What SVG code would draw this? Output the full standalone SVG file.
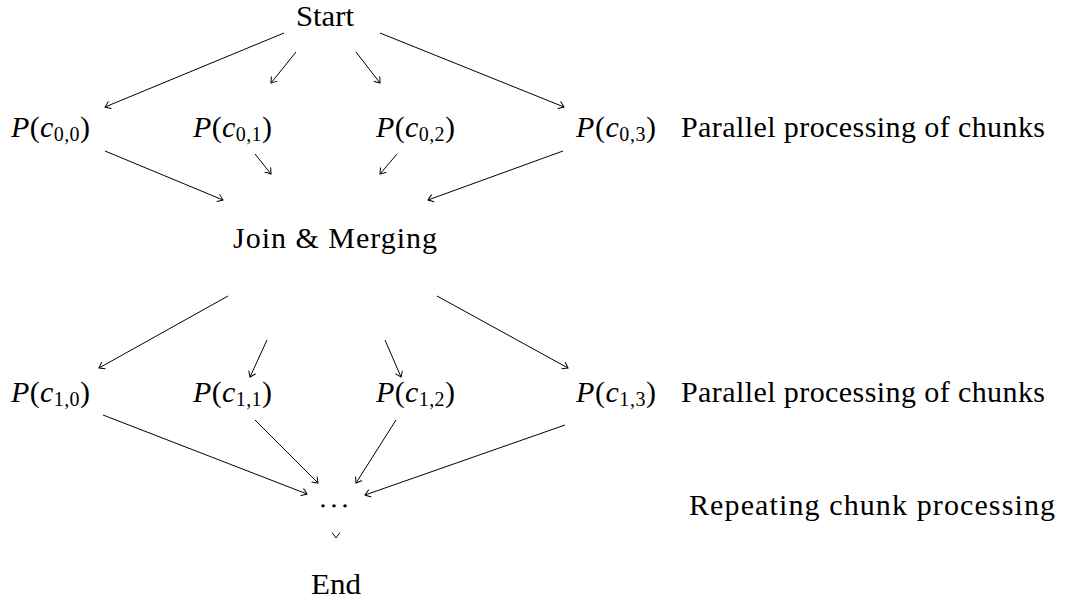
<svg xmlns="http://www.w3.org/2000/svg" width="1071" height="603" viewBox="0 0 1071 603">
  <style>
    text { font-family: "Liberation Serif", "DejaVu Serif", serif; font-size: 30px; fill: #000; }
    .m { text-anchor: middle; }
    .it { font-style: italic; }
    .sub { font-size: 20px; }
    .edge { stroke: #000; stroke-width: 1; fill: none; marker-end: url(#to); }
  </style>
  <defs>
    <marker id="to" viewBox="-6 -5 8 10" markerWidth="8" markerHeight="10" refX="0" refY="0" orient="auto" markerUnits="userSpaceOnUse">
      <path d="M -5 -3.6 Q -1 -0.8 0 0 Q -1 0.8 -5 3.6" stroke="#000" stroke-width="1" fill="none" stroke-linecap="round"/>
    </marker>
  </defs>

  <g id="connectors">
    <path class="edge" d="M 284 33 L 105 107"/>
    <path class="edge" d="M 296 52 L 271 83"/>
    <path class="edge" d="M 356 52 L 380 83"/>
    <path class="edge" d="M 380 33 L 564 107"/>
    <path class="edge" d="M 105 151 L 223 200"/>
    <path class="edge" d="M 255 154 L 271 174"/>
    <path class="edge" d="M 397 154 L 380 174"/>
    <path class="edge" d="M 563 151 L 428 200"/>
    <path class="edge" d="M 228 296 L 99 368"/>
    <path class="edge" d="M 267 340 L 250 377"/>
    <path class="edge" d="M 385 340 L 401 377"/>
    <path class="edge" d="M 437 296 L 568 368"/>
    <path class="edge" d="M 103 415 L 307 494"/>
    <path class="edge" d="M 255 420 L 318 483"/>
    <path class="edge" d="M 396 420 L 356 483"/>
    <path class="edge" d="M 565 425 L 365 495"/>
    <path class="edge" d="M 336 537.9 L 336 538"/>
  </g>

  <g id="start"><text x="296" y="26" textLength="58" lengthAdjust="spacingAndGlyphs">Start</text></g>

  <g id="p00"><text x="11" y="137" textLength="79"><tspan class="it">P</tspan>(<tspan class="it">c</tspan><tspan class="sub" dy="4">0,0</tspan><tspan dy="-4">)</tspan></text></g>
  <g id="p01"><text x="193" y="137" textLength="79"><tspan class="it">P</tspan>(<tspan class="it">c</tspan><tspan class="sub" dy="4">0,1</tspan><tspan dy="-4">)</tspan></text></g>
  <g id="p02"><text x="376" y="137" textLength="79"><tspan class="it">P</tspan>(<tspan class="it">c</tspan><tspan class="sub" dy="4">0,2</tspan><tspan dy="-4">)</tspan></text></g>
  <g id="p03"><text x="576" y="137" textLength="80"><tspan class="it">P</tspan>(<tspan class="it">c</tspan><tspan class="sub" dy="4">0,3</tspan><tspan dy="-4">)</tspan></text></g>
  <g id="label-row0"><text x="681" y="137" textLength="364">Parallel processing of chunks</text></g>

  <g id="join"><text x="233" y="248" textLength="204">Join &amp; Merging</text></g>

  <g id="p10"><text x="11" y="402" textLength="79"><tspan class="it">P</tspan>(<tspan class="it">c</tspan><tspan class="sub" dy="4">1,0</tspan><tspan dy="-4">)</tspan></text></g>
  <g id="p11"><text x="193" y="402" textLength="79"><tspan class="it">P</tspan>(<tspan class="it">c</tspan><tspan class="sub" dy="4">1,1</tspan><tspan dy="-4">)</tspan></text></g>
  <g id="p12"><text x="376" y="402" textLength="79"><tspan class="it">P</tspan>(<tspan class="it">c</tspan><tspan class="sub" dy="4">1,2</tspan><tspan dy="-4">)</tspan></text></g>
  <g id="p13"><text x="576" y="402" textLength="80"><tspan class="it">P</tspan>(<tspan class="it">c</tspan><tspan class="sub" dy="4">1,3</tspan><tspan dy="-4">)</tspan></text></g>
  <g id="label-row1"><text x="681" y="402" textLength="364">Parallel processing of chunks</text></g>

  <!-- centred-dots node: each dot placed on its own -->
  <g id="dots"><text class="m" y="515" style="font-size:26px"><tspan x="323">⋅</tspan><tspan x="334">⋅</tspan><tspan x="345">⋅</tspan></text></g>
  <g id="label-repeat"><text x="689" y="515" textLength="366">Repeating chunk processing</text></g>

  <g id="end"><text x="311" y="594" textLength="50" lengthAdjust="spacingAndGlyphs">End</text></g>
</svg>
